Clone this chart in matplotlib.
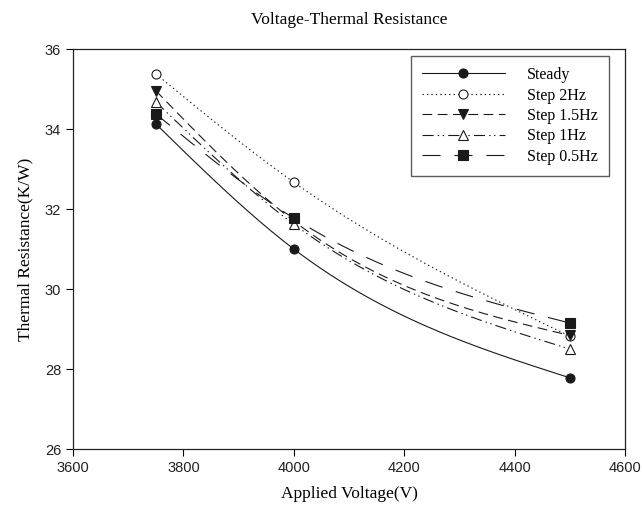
import numpy as np
import matplotlib
matplotlib.use("Agg")
import matplotlib.pyplot as plt

# data
voltage = [3750, 4000, 4500]
steady = [34.13, 31.00, 27.78]
step_2hz = [35.38, 32.67, 28.82]
step_15hz = [34.96, 31.70, 28.84]
step_1hz = [34.68, 31.62, 28.50]
step_05hz = [34.38, 31.77, 29.15]

labels = ["Steady", "Step 2Hz", "Step 1.5Hz", "Step 1Hz", "Step 0.5Hz"]
x_ticks = [3600, 3800, 4000, 4200, 4400, 4600]
y_ticks = [26, 28, 30, 32, 34, 36]


def natural_spline(x, y, n=200):
    # natural cubic spline through the three points, just for drawing the curve
    x = np.asarray(x, float)
    y = np.asarray(y, float)
    h0, h1 = x[1] - x[0], x[2] - x[1]
    m1 = 6 * ((y[2] - y[1]) / h1 - (y[1] - y[0]) / h0) / (2 * (h0 + h1))
    m = [0.0, m1, 0.0]
    xs, ys = [], []
    for i in range(2):
        h = x[i + 1] - x[i]
        t = np.linspace(x[i], x[i + 1], n)
        a = x[i + 1] - t
        b = t - x[i]
        s = (m[i] * a**3 / (6 * h) + m[i + 1] * b**3 / (6 * h)
             + (y[i] / h - m[i] * h / 6) * a + (y[i + 1] / h - m[i + 1] * h / 6) * b)
        xs.append(t)
        ys.append(s)
    return np.concatenate(xs), np.concatenate(ys)


plt.rcParams['lines.scale_dashes'] = False
serif = "Liberation Serif"
sans = "Liberation Sans"

fig = plt.figure(figsize=(6.42, 5.18), dpi=100)
ax = fig.add_axes([0.1137, 0.1332, 0.86, 0.772])

series = [steady, step_2hz, step_15hz, step_1hz, step_05hz]
dashes = [None, (1, 2.2), (7, 4), (8, 3, 1, 2.5, 1, 3), (13, 10)]
markers = ['o', 'o', 'v', '^', 's']
faces = ['#1a1a1a', 'white', '#1a1a1a', 'white', '#1a1a1a']

for vals, lab, d, mk, fc in zip(series, labels, dashes, markers, faces):
    sx, sy = natural_spline(voltage, vals)
    line, = ax.plot(sx, sy, color='#1a1a1a', lw=0.8)
    if d is not None:
        line.set_dashes(d)
    ax.plot(voltage, vals, linestyle='none', marker=mk, ms=6.5,
            markerfacecolor=fc, markeredgecolor='#1a1a1a', mew=0.8)
    # proxy for the legend: line with marker in the middle
    proxy, = ax.plot([], [], color='#1a1a1a', lw=0.8, marker=mk, ms=6.5,
                     markerfacecolor=fc, markeredgecolor='#1a1a1a', mew=0.8,
                     label=lab)
    if d is not None:
        proxy.set_dashes(d)

ax.set_xlim(3600, 4600)
ax.set_ylim(26, 36)
ax.set_xticks(x_ticks)
ax.set_yticks(y_ticks)
ax.tick_params(direction='out', length=5, width=0.8, labelsize=10.5,
               top=False, right=False)
for lbl in ax.get_xticklabels() + ax.get_yticklabels():
    lbl.set_fontfamily(sans)
    lbl.set_color('#222222')
for s in ax.spines.values():
    s.set_linewidth(0.9)
    s.set_color('#222222')

ax.set_xlabel("Applied Voltage(V)", fontfamily=serif, fontsize=12.5, labelpad=8)
ax.set_ylabel("Thermal Resistance(K/W)", fontfamily=serif, fontsize=12.5, labelpad=8)
ax.set_title("Voltage-Thermal Resistance", fontfamily=serif, fontsize=12.5, pad=18)

leg = ax.legend(loc='upper right', bbox_to_anchor=(0.98, 0.995), frameon=True,
                fancybox=False, handlelength=5.2, numpoints=1,
                prop={'family': serif, 'size': 11.5}, borderpad=0.7,
                labelspacing=0.28, handletextpad=1.4, borderaxespad=0.3)
leg.get_frame().set_edgecolor('#333333')
leg.get_frame().set_linewidth(1.0)

fig.savefig("out.png", dpi=100)
